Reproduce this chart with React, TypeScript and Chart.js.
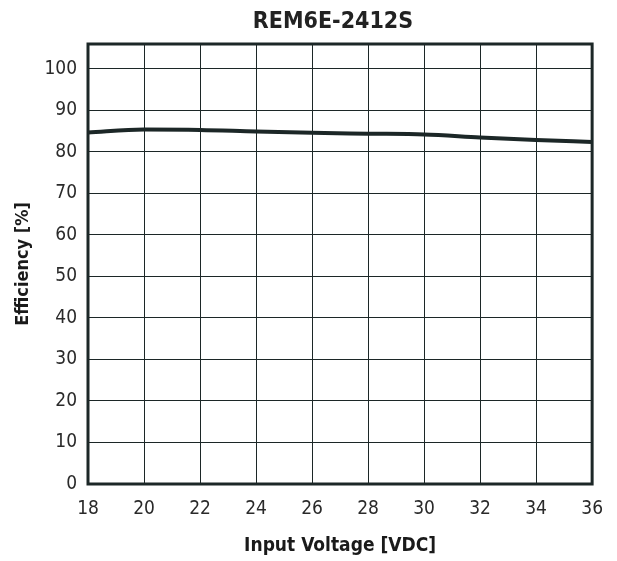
import React, { useEffect, useRef } from "react";
import { Chart, registerables } from "chart.js";

Chart.register(...registerables);

const chartTitle = "REM6E-2412S";
const xAxisTitle = "Input Voltage [VDC]";
const yAxisTitle = "Efficiency [%]";
const inputVoltage = [18, 20, 22, 24, 26, 28, 30, 32, 34, 36];
const efficiency = [84.7, 85.4, 85.3, 84.9, 84.6, 84.4, 84.2, 83.5, 82.9, 82.4];
const xMin = 18;
const xMax = 36;
const xStep = 2;
const yMin = 0;
const yMax = 106;
const yStep = 10;

const FONT = "'Liberation Sans Narrow', 'Arial Narrow', 'DejaVu Sans Condensed', sans-serif";
const DARK = "#1c2727";

const framePlugin = {
  id: "frameAndTitle",
  afterDraw(chart: any) {
    const { ctx, chartArea } = chart;
    ctx.save();
    ctx.strokeStyle = DARK;
    ctx.lineWidth = 3;
    ctx.strokeRect(chartArea.left, chartArea.top, chartArea.right - chartArea.left, chartArea.bottom - chartArea.top);
    ctx.fillStyle = "#222";
    ctx.font = `bold 23px ${FONT}`;
    ctx.textAlign = "center";
    ctx.textBaseline = "middle";
    ctx.fillText(chartTitle, 333, 22);
    ctx.restore();
  },
};

export default function App() {
  const ref = useRef<HTMLCanvasElement | null>(null);
  useEffect(() => {
    if (!ref.current) return;
    const chart = new Chart(ref.current, {
      type: "line",
      data: {
        datasets: [
          {
            data: inputVoltage.map((v, i) => ({ x: v, y: efficiency[i] })),
            borderColor: DARK,
            borderWidth: 4,
            pointRadius: 0,
            cubicInterpolationMode: "monotone",
            fill: false,
          },
        ],
      },
      options: {
        animation: false,
        responsive: false,
        devicePixelRatio: 1,
        layout: { padding: { top: 44, right: 22, left: 0, bottom: 0 } },
        plugins: { legend: { display: false }, title: { display: false }, tooltip: { enabled: false } },
        scales: {
          x: {
            type: "linear",
            min: xMin,
            max: xMax,
            afterFit: (s: any) => {
              s.height = 77;
            },
            ticks: { stepSize: xStep, padding: 14, color: "#2a2a2a", font: { family: FONT, size: 19 }, maxRotation: 0 },
            grid: { color: DARK, lineWidth: 1, drawTicks: false },
            border: { display: false },
            title: { display: true, text: xAxisTitle, color: "#1a1a1a", font: { family: FONT, size: 19, weight: "bold" }, padding: { top: 0, bottom: 4 } },
          },
          y: {
            min: yMin,
            max: yMax,
            afterFit: (s: any) => {
              s.width = 88;
            },
            ticks: { stepSize: yStep, includeBounds: false, padding: 11, color: "#2a2a2a", font: { family: FONT, size: 19 } },
            grid: { color: DARK, lineWidth: 1, drawTicks: false },
            border: { display: false },
            title: { display: true, text: yAxisTitle, color: "#1a1a1a", font: { family: FONT, size: 18, weight: "bold" }, padding: { top: 13, bottom: 0 } },
          },
        },
      },
      plugins: [framePlugin],
    } as any);
    return () => chart.destroy();
  }, []);
  return (
    <div style={{ position: "absolute", left: 0, top: 0, width: 617, height: 561, background: "#fff" }}>
      <canvas ref={ref} width={617} height={561} style={{ display: "block" }} />
    </div>
  );
}
